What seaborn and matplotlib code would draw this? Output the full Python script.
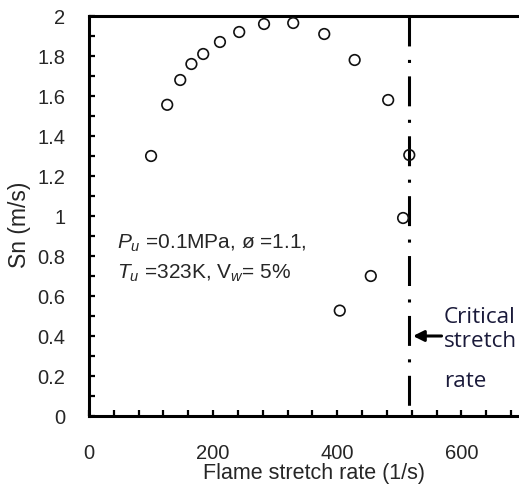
import matplotlib
matplotlib.use("Agg")
import matplotlib.pyplot as plt
import seaborn as sns
import pandas as pd
from matplotlib.ticker import MultipleLocator, FuncFormatter

# ---- data ----
stretch_rate = [100, 126, 147, 165, 184, 211, 242, 282, 329, 379, 428, 482, 516, 506, 454, 404]
flame_speed = [1.30, 1.556, 1.68, 1.76, 1.81, 1.87, 1.92, 1.96, 1.965, 1.91, 1.78, 1.58, 1.305, 0.99, 0.70, 0.527]
critical_rate = 515
critical_line_y = [2.0, 0.05]
x_ticks = [0, 200, 400, 600]
y_ticks = [0, 0.2, 0.4, 0.6, 0.8, 1.0, 1.2, 1.4, 1.6, 1.8, 2.0]
cond_line1 = r"$P_u$ =0.1MPa, ø =1.1,"
cond_line2 = r"$T_u$ =323K, V$_{w}$= 5%"
critical_words = ["Critical", "stretch", "rate"]

sns.set_style("white")
plt.rcParams["font.family"] = ["Liberation Sans", "DejaVu Sans"]
plt.rcParams["mathtext.fontset"] = "custom"
plt.rcParams["mathtext.it"] = "Liberation Sans:italic"
plt.rcParams["mathtext.rm"] = "Liberation Sans"

df = pd.DataFrame({"rate": stretch_rate, "sn": flame_speed})

fig = plt.figure(figsize=(5.19, 4.90), dpi=100, facecolor="white")
W, H = 519, 490
left, top, bottom = 89, 16, 416
px_per_unit = 0.6207
x_max = 720
right = left + x_max * px_per_unit
ax = fig.add_axes([left / W, (H - bottom) / H, (right - left) / W, (bottom - top) / H])
ax.patch.set_visible(False)
for s in ["left", "top", "bottom", "right"]:
    ax.spines[s].set_visible(False)

sns.scatterplot(data=df, x="rate", y="sn", ax=ax, marker="o", s=58,
                facecolors="none", edgecolor="#111111", linewidth=1.2, zorder=3)

# critical stretch rate dash-dot line
ax.plot([critical_rate, critical_rate], critical_line_y, color="black", lw=2.2,
        dashes=(9.8, 4.4, 1.0, 4.4), solid_capstyle="butt", dash_capstyle="butt", zorder=2)

ax.set_xlim(0, x_max)
ax.set_ylim(0, 2)
ax.set_xticks(x_ticks)
ax.set_yticks(y_ticks)
ax.xaxis.set_minor_locator(MultipleLocator(40))
ax.yaxis.set_minor_locator(MultipleLocator(0.1))
ax.yaxis.set_major_formatter(FuncFormatter(lambda v, p: "%g" % round(v, 2)))
ax.xaxis.set_major_formatter(FuncFormatter(lambda v, p: "%g" % v))

ax.tick_params(which="both", direction="in", length=4.3, width=1.6, color="black",
               top=False, right=False, bottom=True, left=True,
               labeltop=False, labelright=False)
ax.tick_params(axis="y", which="major", pad=17, labelsize=14.5)
ax.tick_params(axis="x", which="major", pad=20, labelsize=14.5)

# draw frame lines explicitly in axes coordinates (left, top, bottom)
ax.plot([0, 0], [0, 1], transform=ax.transAxes, color="black", lw=2.2, clip_on=False,
        solid_capstyle="projecting")
ax.plot([0, 1], [1, 1], transform=ax.transAxes, color="black", lw=2.2, clip_on=False,
        solid_capstyle="projecting")
ax.plot([0, 1], [0, 0], transform=ax.transAxes, color="black", lw=2.2, clip_on=False,
        solid_capstyle="projecting")

ax.set_xlabel("Flame stretch rate (1/s)", fontsize=15.5)
ax.set_ylabel("Sn (m/s)", fontsize=16.5)
ax.xaxis.set_label_coords((314 - left) / (right - left), (bottom - 463) / (bottom - top))
ax.yaxis.set_label_coords((31 - left) / (right - left), (bottom - 225) / (bottom - top))

ax.text(44.6, 0.865, cond_line1, fontsize=15, va="center", ha="left")
ax.text(44.6, 0.715, cond_line2, fontsize=15, va="center", ha="left")

ax.annotate("", xy=(522, 0.40), xytext=(568, 0.40),
            arrowprops=dict(arrowstyle="-|>", color="black", lw=2.2,
                            mutation_scale=16, shrinkA=0, shrinkB=0))
for word, yb in zip(critical_words, [0.465, 0.345, 0.145]):
    ax.text(572, yb, word, fontsize=16.2, family=["Open Sans", "DejaVu Sans"],
            va="baseline", ha="left", color="#1a1a3a", clip_on=False)

fig.savefig("out.png", dpi=100, facecolor="white")
